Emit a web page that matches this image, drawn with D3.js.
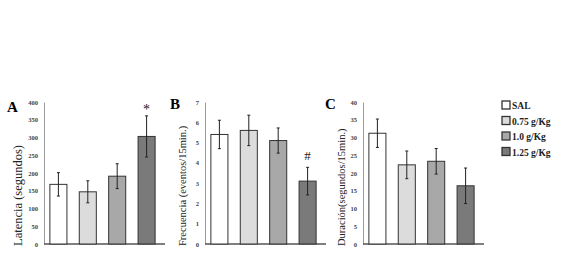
<!DOCTYPE html>
<html>
<head>
<meta charset="utf-8">
<script src="https://cdn.jsdelivr.net/npm/d3@7"></script>
<style>
  body { margin: 0; background: #fff; }
  text { font-family: "Liberation Serif", "DejaVu Serif", serif; }
</style>
</head>
<body>
<script>
// groups (legend + bar order)
const groups = ["SAL", "0.75 g/Kg", "1.0 g/Kg", "1.25 g/Kg"]
const fills = ["#ffffff", "#dcdcdc", "#a8a8a8", "#7a7a7a"]

// panel A - latency
const latMean = [168, 147, 191, 303]
const latErr = [33, 31, 35, 58]
const latTicks = [0, 50, 100, 150, 200, 250, 300, 350, 400]

// panel B - frequency
const freqMean = [5.4, 5.6, 5.1, 3.1]
const freqErr = [0.7, 0.75, 0.62, 0.68]
const freqTicks = [0, 1, 2, 3, 4, 5, 6, 7]

// panel C - duration
const durMean = [31.2, 22.3, 23.3, 16.4]
const durErr = [4.0, 3.9, 3.6, 5.0]
const durTicks = [0, 5, 10, 15, 20, 25, 30, 35, 40]

const panels = [
  { letter: "A", x0: 44, mean: latMean, err: latErr, ticks: latTicks, max: 400,
    label: "Latencia (segundos)", fs: 12.5, mark: "*", markIdx: 3, lx: 7, ly: 112, tx: 22 },
  { letter: "B", x0: 205, mean: freqMean, err: freqErr, ticks: freqTicks, max: 7,
    label: "Frecuencia (eventos/15min.)", fs: 10.5, mark: "#", markIdx: 3, lx: 170, ly: 109, tx: 186 },
  { letter: "C", x0: 363, mean: durMean, err: durErr, ticks: durTicks, max: 40,
    label: "Duración(segundos/15min.)", fs: 10.5, mark: null, lx: 325, ly: 109, tx: 345 }
]

const svg = d3.select("body").append("svg")
  .attr("width", 568)
  .attr("height", 260)

const yTop = 102, yBot = 244

panels.forEach(p => {
  const g = svg.append("g")
  const y = d3.scaleLinear().domain([0, p.max]).range([yBot, yTop])
  const x = d3.scaleBand().domain(groups).range([p.x0, p.x0 + 117])
    .paddingInner(0.42).paddingOuter(0.2)

  // y axis
  const ax = g.append("g")
    .attr("transform", "translate(" + p.x0 + ",0)")
    .call(d3.axisLeft(y).tickValues(p.ticks).tickFormat(d3.format("d")).tickSize(0).tickPadding(6))
  ax.select(".domain").attr("stroke", "#9a9a9a")
  ax.selectAll("text").attr("font-size", 6.5).attr("font-weight", "bold").attr("fill", "#444")

  // baseline
  g.append("line")
    .attr("x1", p.x0).attr("x2", p.x0 + 121)
    .attr("y1", yBot).attr("y2", yBot)
    .attr("stroke", "#555").attr("stroke-width", 1.3)

  // bars
  g.selectAll(".bar").data(p.mean).enter()
    .append("rect")
      .attr("x", (d, i) => x(groups[i]))
      .attr("y", d => y(d))
      .attr("width", x.bandwidth())
      .attr("height", d => yBot - y(d))
      .attr("fill", (d, i) => fills[i])
      .attr("stroke", "#333")
      .attr("stroke-width", 1)

  // error bars
  const eb = g.selectAll(".err").data(p.mean).enter().append("g")
  const cx = i => x(groups[i]) + x.bandwidth() / 2
  eb.append("line")
    .attr("x1", (d, i) => cx(i)).attr("x2", (d, i) => cx(i))
    .attr("y1", (d, i) => y(d - p.err[i])).attr("y2", (d, i) => y(d + p.err[i]))
    .attr("stroke", "#222").attr("stroke-width", 1)
  ;[-1, 1].forEach(s => {
    eb.append("line")
      .attr("x1", (d, i) => cx(i) - 1.5).attr("x2", (d, i) => cx(i) + 1.5)
      .attr("y1", (d, i) => y(d + s * p.err[i])).attr("y2", (d, i) => y(d + s * p.err[i]))
      .attr("stroke", "#222").attr("stroke-width", 1)
  })

  // significance mark
  if (p.mark) {
    const i = p.markIdx
    g.append("text")
      .attr("x", cx(i))
      .attr("y", y(p.mean[i] + p.err[i]) - (p.mark === "*" ? 2 : 7))
      .attr("text-anchor", "middle")
      .attr("font-size", p.mark === "*" ? 14 : 13)
      .attr("fill", "#222")
      .text(p.mark)
  }

  // panel letter
  g.append("text")
    .attr("x", p.lx).attr("y", p.ly)
    .attr("font-size", 15).attr("font-weight", "bold")
    .text(p.letter)

  // y label
  g.append("text")
    .attr("transform", "translate(" + p.tx + "," + (yBot + 2) + ") rotate(-90)")
    .attr("font-size", p.fs)
    .attr("fill", "#222")
    .text(p.label)
})

// legend
const leg = svg.append("g").attr("transform", "translate(502,101)")
groups.forEach((name, i) => {
  leg.append("rect")
    .attr("x", 0).attr("y", i * 15.5)
    .attr("width", 8).attr("height", 8)
    .attr("fill", fills[i]).attr("stroke", "#333").attr("stroke-width", 1.3)
  leg.append("text")
    .attr("x", 10).attr("y", i * 15.5 + 8)
    .attr("font-size", 9.5).attr("font-weight", "bold")
    .attr("fill", "#222")
    .text(name)
})
</script>
</body>
</html>
